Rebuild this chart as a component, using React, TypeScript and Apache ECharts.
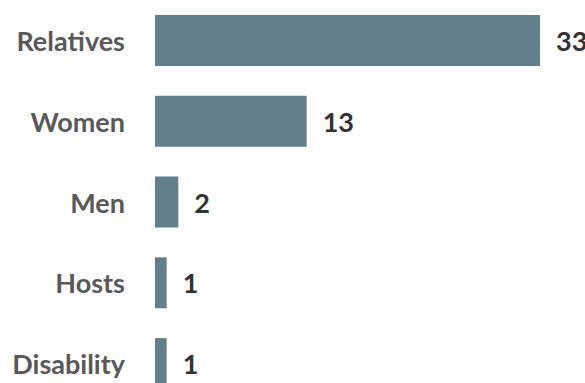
import React, { useEffect, useRef } from "react";
import * as echarts from "echarts";

const categories = ["Relatives", "Women", "Men", "Hosts", "Disability"];
const values = [33, 13, 2, 1, 1];

export default function App() {
  const ref = useRef<HTMLDivElement>(null);
  useEffect(() => {
    if (!ref.current) return;
    const chart = echarts.init(ref.current, null, { renderer: "svg" });
    chart.setOption({
      animation: false,
      grid: { left: 155, right: 45, top: 0, bottom: 0, containLabel: false },
      xAxis: {
        type: "value",
        min: 0,
        max: 33,
        show: false,
      },
      yAxis: {
        type: "category",
        data: categories,
        inverse: true,
        axisLine: { show: false },
        axisTick: { show: false },
        axisLabel: {
          margin: 30,
          color: "#595959",
          fontFamily: "Lato",
          fontWeight: "bold",
          fontSize: 27,
        },
      },
      series: [
        {
          type: "bar",
          data: values,
          barWidth: 51,
          itemStyle: { color: "#637f8c" },
          label: {
            show: true,
            position: "right",
            distance: 16,
            color: "#333333",
            fontFamily: "Lato",
            fontWeight: "bold",
            fontSize: 27,
          },
        },
      ],
    });
    return () => chart.dispose();
  }, []);
  return (
    <div style={{ position: "fixed", left: 0, top: 0, width: 585, height: 383, overflow: "hidden", background: "#fff" }}>
      <div ref={ref} style={{ width: 585, height: 404 }} />
    </div>
  );
}
